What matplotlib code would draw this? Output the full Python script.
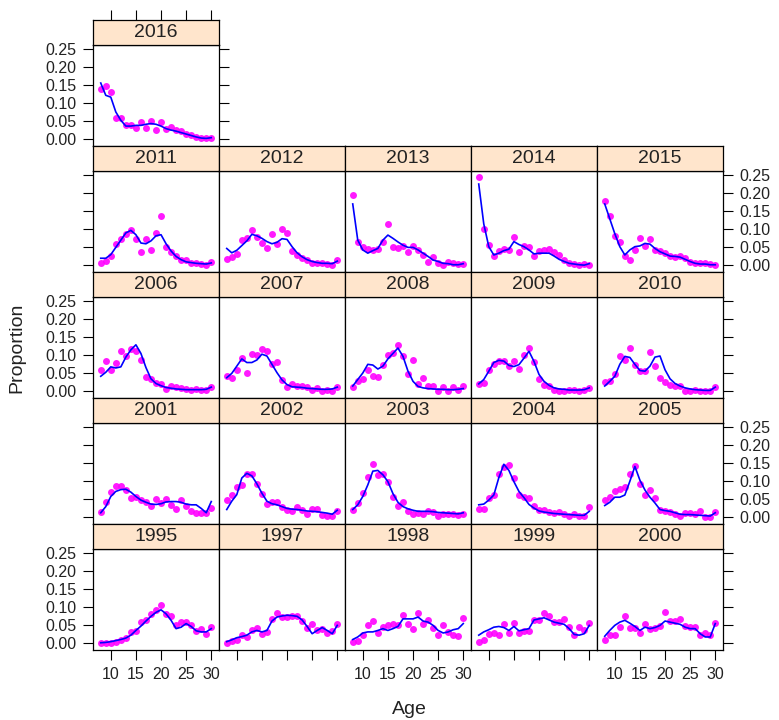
import matplotlib
matplotlib.use("Agg")
import matplotlib.pyplot as plt

plt.rcParams["font.family"] = ["Liberation Sans", "DejaVu Sans"]

ages = list(range(8, 31))

# observed proportions (dots) and fitted values (line) by year
obs_1995 = [0.0, 0.0, 0.002, 0.005, 0.009, 0.014, 0.032, 0.035, 0.059, 0.065, 0.082, 0.093, 0.105, 0.082, 0.077, 0.050, 0.059, 0.059, 0.050, 0.035, 0.041, 0.027, 0.045]
fit_1995 = [0.002, 0.003, 0.005, 0.008, 0.011, 0.015, 0.023, 0.036, 0.048, 0.062, 0.075, 0.086, 0.093, 0.082, 0.064, 0.041, 0.045, 0.055, 0.047, 0.035, 0.032, 0.032, 0.041]
obs_1997 = [0.0, 0.007, 0.009, 0.023, 0.018, 0.036, 0.044, 0.027, 0.032, 0.068, 0.084, 0.073, 0.073, 0.075, 0.077, 0.062, 0.044, 0.055, 0.036, 0.041, 0.029, 0.035, 0.053]
fit_1997 = [0.005, 0.010, 0.016, 0.019, 0.023, 0.032, 0.036, 0.032, 0.036, 0.062, 0.073, 0.076, 0.078, 0.077, 0.075, 0.065, 0.047, 0.027, 0.036, 0.044, 0.036, 0.027, 0.050]
obs_1998 = [0.005, 0.007, 0.023, 0.050, 0.062, 0.029, 0.045, 0.050, 0.053, 0.050, 0.080, 0.055, 0.041, 0.084, 0.055, 0.065, 0.044, 0.023, 0.050, 0.032, 0.023, 0.020, 0.071]
fit_1998 = [0.011, 0.018, 0.029, 0.032, 0.032, 0.036, 0.041, 0.036, 0.041, 0.047, 0.068, 0.068, 0.068, 0.073, 0.062, 0.059, 0.050, 0.036, 0.029, 0.032, 0.038, 0.041, 0.055]
obs_1999 = [0.005, 0.011, 0.027, 0.029, 0.023, 0.053, 0.029, 0.056, 0.029, 0.035, 0.035, 0.065, 0.065, 0.084, 0.077, 0.059, 0.059, 0.068, 0.045, 0.023, 0.045, 0.036, 0.056]
fit_1999 = [0.023, 0.032, 0.038, 0.045, 0.047, 0.044, 0.036, 0.047, 0.035, 0.038, 0.041, 0.065, 0.068, 0.071, 0.065, 0.059, 0.056, 0.053, 0.041, 0.025, 0.023, 0.027, 0.050]
obs_2000 = [0.011, 0.023, 0.023, 0.045, 0.077, 0.044, 0.044, 0.029, 0.055, 0.041, 0.044, 0.047, 0.086, 0.062, 0.062, 0.068, 0.047, 0.045, 0.045, 0.023, 0.029, 0.023, 0.056]
fit_2000 = [0.020, 0.036, 0.050, 0.059, 0.064, 0.056, 0.047, 0.036, 0.045, 0.041, 0.044, 0.050, 0.062, 0.059, 0.056, 0.053, 0.045, 0.041, 0.041, 0.027, 0.018, 0.018, 0.055]
obs_2001 = [0.014, 0.044, 0.071, 0.087, 0.087, 0.076, 0.053, 0.056, 0.049, 0.044, 0.031, 0.051, 0.040, 0.051, 0.035, 0.024, 0.047, 0.031, 0.017, 0.013, 0.013, 0.013, 0.025]
fit_2001 = [0.013, 0.030, 0.058, 0.072, 0.077, 0.078, 0.070, 0.058, 0.048, 0.042, 0.037, 0.036, 0.038, 0.043, 0.044, 0.044, 0.042, 0.037, 0.035, 0.035, 0.025, 0.013, 0.044]
obs_2002 = [0.047, 0.063, 0.083, 0.089, 0.121, 0.121, 0.092, 0.065, 0.038, 0.043, 0.042, 0.029, 0.022, 0.017, 0.029, 0.022, 0.011, 0.024, 0.024, 0.008, 0.004, 0.004, 0.018]
fit_2002 = [0.022, 0.045, 0.063, 0.109, 0.122, 0.115, 0.093, 0.067, 0.045, 0.038, 0.035, 0.030, 0.025, 0.023, 0.022, 0.020, 0.018, 0.017, 0.016, 0.014, 0.012, 0.009, 0.020]
obs_2003 = [0.022, 0.040, 0.067, 0.112, 0.149, 0.116, 0.121, 0.099, 0.056, 0.031, 0.044, 0.017, 0.011, 0.013, 0.011, 0.017, 0.014, 0.004, 0.011, 0.011, 0.011, 0.008, 0.011]
fit_2003 = [0.022, 0.035, 0.058, 0.090, 0.128, 0.130, 0.118, 0.099, 0.066, 0.042, 0.030, 0.024, 0.020, 0.017, 0.017, 0.017, 0.016, 0.014, 0.013, 0.012, 0.011, 0.010, 0.013]
obs_2004 = [0.024, 0.024, 0.053, 0.062, 0.121, 0.139, 0.144, 0.108, 0.062, 0.056, 0.053, 0.031, 0.022, 0.020, 0.014, 0.013, 0.014, 0.011, 0.005, 0.011, 0.005, 0.005, 0.029]
fit_2004 = [0.035, 0.037, 0.048, 0.062, 0.110, 0.147, 0.130, 0.099, 0.072, 0.055, 0.036, 0.026, 0.018, 0.015, 0.013, 0.011, 0.010, 0.009, 0.008, 0.007, 0.006, 0.006, 0.017]
obs_2005 = [0.049, 0.056, 0.072, 0.078, 0.085, 0.121, 0.141, 0.092, 0.062, 0.076, 0.053, 0.020, 0.017, 0.014, 0.011, 0.005, 0.013, 0.013, 0.011, 0.017, 0.002, 0.002, 0.014]
fit_2005 = [0.033, 0.042, 0.056, 0.056, 0.062, 0.100, 0.141, 0.103, 0.076, 0.056, 0.040, 0.022, 0.019, 0.017, 0.013, 0.009, 0.008, 0.008, 0.007, 0.006, 0.005, 0.004, 0.013]
obs_2006 = [0.060, 0.083, 0.060, 0.080, 0.111, 0.097, 0.117, 0.111, 0.088, 0.040, 0.035, 0.024, 0.022, 0.007, 0.015, 0.013, 0.010, 0.007, 0.004, 0.007, 0.004, 0.005, 0.013]
fit_2006 = [0.042, 0.053, 0.068, 0.065, 0.068, 0.095, 0.115, 0.129, 0.105, 0.066, 0.035, 0.022, 0.016, 0.011, 0.009, 0.007, 0.006, 0.005, 0.005, 0.005, 0.005, 0.006, 0.012]
obs_2007 = [0.044, 0.038, 0.060, 0.092, 0.051, 0.104, 0.101, 0.117, 0.111, 0.077, 0.081, 0.031, 0.013, 0.021, 0.015, 0.015, 0.013, 0.004, 0.010, 0.001, 0.004, 0.001, 0.013]
fit_2007 = [0.038, 0.050, 0.070, 0.090, 0.080, 0.080, 0.087, 0.103, 0.098, 0.075, 0.052, 0.032, 0.019, 0.013, 0.012, 0.011, 0.009, 0.008, 0.007, 0.006, 0.006, 0.007, 0.012]
obs_2008 = [0.012, 0.028, 0.035, 0.060, 0.044, 0.040, 0.074, 0.102, 0.106, 0.129, 0.097, 0.049, 0.088, 0.022, 0.038, 0.015, 0.015, 0.001, 0.013, 0.001, 0.013, 0.005, 0.015]
fit_2008 = [0.015, 0.033, 0.051, 0.075, 0.073, 0.062, 0.070, 0.090, 0.105, 0.120, 0.097, 0.056, 0.028, 0.014, 0.010, 0.008, 0.007, 0.006, 0.006, 0.005, 0.005, 0.006, 0.008]
obs_2009 = [0.021, 0.024, 0.058, 0.077, 0.083, 0.083, 0.070, 0.083, 0.062, 0.102, 0.120, 0.081, 0.035, 0.019, 0.015, 0.005, 0.001, 0.001, 0.004, 0.005, 0.001, 0.005, 0.010]
fit_2009 = [0.021, 0.033, 0.056, 0.080, 0.086, 0.084, 0.072, 0.069, 0.074, 0.092, 0.111, 0.083, 0.047, 0.028, 0.017, 0.010, 0.007, 0.006, 0.004, 0.004, 0.004, 0.005, 0.010]
obs_2010 = [0.026, 0.028, 0.049, 0.097, 0.086, 0.120, 0.074, 0.056, 0.056, 0.108, 0.070, 0.038, 0.026, 0.019, 0.015, 0.015, 0.001, 0.001, 0.005, 0.001, 0.001, 0.001, 0.013]
fit_2010 = [0.015, 0.028, 0.042, 0.075, 0.097, 0.094, 0.075, 0.058, 0.056, 0.070, 0.095, 0.098, 0.060, 0.035, 0.022, 0.015, 0.010, 0.007, 0.005, 0.004, 0.003, 0.003, 0.012]
obs_2011 = [0.008, 0.012, 0.025, 0.059, 0.072, 0.088, 0.097, 0.074, 0.038, 0.072, 0.043, 0.091, 0.138, 0.052, 0.038, 0.025, 0.014, 0.014, 0.008, 0.006, 0.005, 0.0, 0.010]
fit_2011 = [0.020, 0.020, 0.030, 0.050, 0.070, 0.090, 0.097, 0.085, 0.062, 0.060, 0.068, 0.082, 0.085, 0.060, 0.040, 0.025, 0.016, 0.010, 0.008, 0.006, 0.005, 0.004, 0.007]
obs_2012 = [0.018, 0.023, 0.031, 0.070, 0.075, 0.097, 0.079, 0.063, 0.049, 0.086, 0.059, 0.100, 0.090, 0.040, 0.029, 0.020, 0.014, 0.008, 0.008, 0.006, 0.005, 0.0, 0.015]
fit_2012 = [0.047, 0.035, 0.042, 0.055, 0.068, 0.086, 0.082, 0.075, 0.066, 0.060, 0.064, 0.074, 0.072, 0.052, 0.035, 0.024, 0.016, 0.011, 0.008, 0.006, 0.006, 0.005, 0.012]
obs_2013 = [0.195, 0.065, 0.052, 0.045, 0.043, 0.045, 0.064, 0.115, 0.052, 0.047, 0.054, 0.038, 0.054, 0.043, 0.029, 0.011, 0.023, 0.006, 0.0, 0.011, 0.006, 0.005, 0.005]
fit_2013 = [0.170, 0.070, 0.043, 0.034, 0.041, 0.047, 0.070, 0.084, 0.075, 0.065, 0.056, 0.050, 0.050, 0.043, 0.034, 0.025, 0.015, 0.011, 0.006, 0.005, 0.002, 0.002, 0.005]
obs_2014 = [0.245, 0.102, 0.056, 0.026, 0.041, 0.045, 0.043, 0.079, 0.038, 0.054, 0.050, 0.026, 0.041, 0.043, 0.045, 0.038, 0.029, 0.015, 0.008, 0.005, 0.002, 0.005, 0.0]
fit_2014 = [0.225, 0.115, 0.052, 0.029, 0.034, 0.041, 0.045, 0.066, 0.058, 0.052, 0.043, 0.032, 0.034, 0.034, 0.034, 0.026, 0.017, 0.011, 0.006, 0.004, 0.002, 0.001, 0.005]
obs_2015 = [0.179, 0.138, 0.081, 0.065, 0.025, 0.015, 0.043, 0.075, 0.054, 0.072, 0.043, 0.041, 0.035, 0.026, 0.023, 0.025, 0.020, 0.011, 0.008, 0.006, 0.008, 0.005, 0.0]
fit_2015 = [0.170, 0.129, 0.088, 0.052, 0.029, 0.043, 0.052, 0.054, 0.061, 0.059, 0.047, 0.038, 0.032, 0.026, 0.025, 0.023, 0.017, 0.011, 0.006, 0.004, 0.004, 0.002, 0.002]
obs_2016 = [0.140, 0.147, 0.130, 0.058, 0.058, 0.039, 0.039, 0.033, 0.049, 0.033, 0.051, 0.026, 0.049, 0.030, 0.035, 0.026, 0.024, 0.016, 0.012, 0.007, 0.003, 0.003, 0.005]
fit_2016 = [0.156, 0.122, 0.117, 0.076, 0.053, 0.037, 0.037, 0.039, 0.039, 0.042, 0.044, 0.042, 0.037, 0.030, 0.026, 0.023, 0.019, 0.015, 0.011, 0.007, 0.004, 0.003, 0.005]

# page layout, top row first
layout_rows = [
    [2016],
    [2011, 2012, 2013, 2014, 2015],
    [2006, 2007, 2008, 2009, 2010],
    [2001, 2002, 2003, 2004, 2005],
    [1995, 1997, 1998, 1999, 2000],
]
series = {
    1995: (obs_1995, fit_1995), 1997: (obs_1997, fit_1997), 1998: (obs_1998, fit_1998),
    1999: (obs_1999, fit_1999), 2000: (obs_2000, fit_2000), 2001: (obs_2001, fit_2001),
    2002: (obs_2002, fit_2002), 2003: (obs_2003, fit_2003), 2004: (obs_2004, fit_2004),
    2005: (obs_2005, fit_2005), 2006: (obs_2006, fit_2006), 2007: (obs_2007, fit_2007),
    2008: (obs_2008, fit_2008), 2009: (obs_2009, fit_2009), 2010: (obs_2010, fit_2010),
    2011: (obs_2011, fit_2011), 2012: (obs_2012, fit_2012), 2013: (obs_2013, fit_2013),
    2014: (obs_2014, fit_2014), 2015: (obs_2015, fit_2015), 2016: (obs_2016, fit_2016),
}
x_ticks = [10, 15, 20, 25, 30]
y_ticks = [0.0, 0.05, 0.10, 0.15, 0.20, 0.25]
y_ticklabels = ["0.00", "0.05", "0.10", "0.15", "0.20", "0.25"]

W, H = 779, 720
fig = plt.figure(figsize=(W / 100, H / 100), dpi=100)

# panel grid in pixels (whole numbers so shared borders line up)
pw = 126
col_left = [93 + i * pw for i in range(5)]
row_top = [20, 146, 272, 398, 524]
strip_h = 25
panel_h = 101

strip_col = "#FFE5CC"
txt_col = "#222222"
tick_kw = dict(length=7, width=0.8, color="black", labelsize=11.5, labelcolor=txt_col, pad=5)


def fig_box(x, y, w, h):
    return [x / W, 1 - (y + h) / H, w / W, h / H]


n_rows = len(layout_rows)
for r, years in enumerate(layout_rows):
    for c, yr in enumerate(years):
        top = row_top[r]
        ax = fig.add_axes(fig_box(col_left[c], top + strip_h, pw, panel_h))
        st = fig.add_axes(fig_box(col_left[c], top, pw, strip_h))

        obs, fit = series[yr]
        ax.plot(ages, obs, "o", color="#FF00FF", ms=5, mec="none", alpha=0.9, zorder=2)
        ax.plot(ages, fit, "-", color="#0000FF", lw=1.2, zorder=3)
        ax.set_xlim(6.46, 31.54)
        ax.set_ylim(-0.018, 0.261)

        ax.set_xticks(x_ticks)
        ax.set_yticks(y_ticks)
        ax.tick_params(axis="both", direction="out", **tick_kw)
        # lattice-style alternating axes
        is_bottom = r == n_rows - 1
        ax.tick_params(axis="x", bottom=is_bottom, top=False,
                       labelbottom=is_bottom and c % 2 == 0, labeltop=False)
        left = c == 0
        right = c == len(years) - 1
        label_left = left and (n_rows - 1 - r) % 2 == 0
        label_right = right and (n_rows - 1 - r) % 2 == 1
        ax.tick_params(axis="y", left=left, right=right,
                       labelleft=label_left, labelright=label_right)
        ax.set_yticklabels(y_ticklabels)
        for s in ax.spines.values():
            s.set_linewidth(0.9)

        # strip
        st.set_facecolor(strip_col)
        st.set_xlim(6.46, 31.54)
        st.set_ylim(0, 1)
        st.set_yticks([])
        st.set_xticks(x_ticks)
        st.tick_params(axis="x", direction="out", bottom=False, labelbottom=False,
                       top=(r == 0), labeltop=False, length=7, width=0.8)
        for s in st.spines.values():
            s.set_linewidth(0.9)
        st.text(0.5, 0.5, str(yr), transform=st.transAxes, ha="center", va="center",
                fontsize=14, color=txt_col)

fig.text(409 / W, 1 - 710 / H, "Age", ha="center", va="center", fontsize=14, color=txt_col)
fig.text(17 / W, 1 - 348 / H, "Proportion", ha="center", va="center", rotation=90,
         fontsize=14, color=txt_col)

fig.savefig("out.png", dpi=100)
